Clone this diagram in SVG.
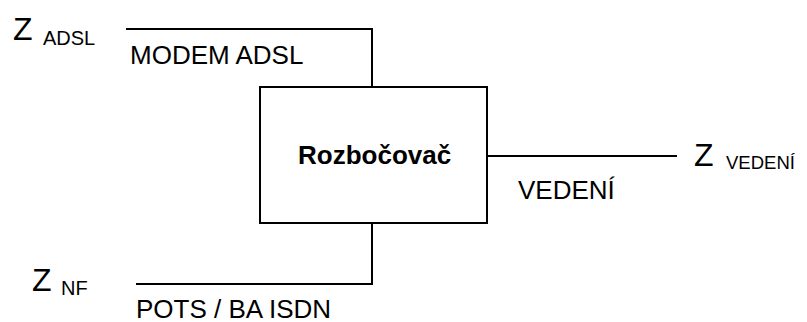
<svg xmlns="http://www.w3.org/2000/svg" width="807" height="322" viewBox="0 0 807 322">
<style>
.t{font-family:"Liberation Sans",Arial,sans-serif;fill:#000}
.big{font-size:32px}
.sub{font-size:20px}
.lab{font-size:26px}
.b{font-weight:bold}
.ln{stroke:#000;stroke-width:2;fill:none}
</style>
<rect width="807" height="322" fill="#fff"/>
<g id="connectors">
<polyline class="ln" points="126,29 372,29 372,87"/>
<polyline class="ln" points="136,284 372,284 372,223"/>
<line class="ln" x1="487" y1="156" x2="677" y2="156"/>
</g>
<g id="rozbocovac">
<rect class="ln" x="260" y="87" width="227" height="136"/>
<text class="t lab b" x="298" y="163.5" font-size="26.5">Rozbočovač</text>
</g>
<g id="z-adsl">
<text class="t big" x="13" y="40">Z</text>
<text class="t sub" x="43" y="45">ADSL</text>
</g>
<g id="modem-adsl">
<text class="t lab" x="130" y="64">MODEM ADSL</text>
</g>
<g id="z-nf">
<text class="t big" x="32" y="291">Z</text>
<text class="t sub" x="61" y="295">NF</text>
</g>
<g id="pots">
<text class="t lab" x="136" y="317.5">POTS / BA ISDN</text>
</g>
<g id="z-vedeni">
<text class="t big" x="694" y="166">Z</text>
<text class="t" x="726" y="168.5" font-size="18.5">VEDENÍ</text>
</g>
<g id="vedeni">
<text class="t lab" x="518" y="198.5">VEDENÍ</text>
</g>
</svg>
